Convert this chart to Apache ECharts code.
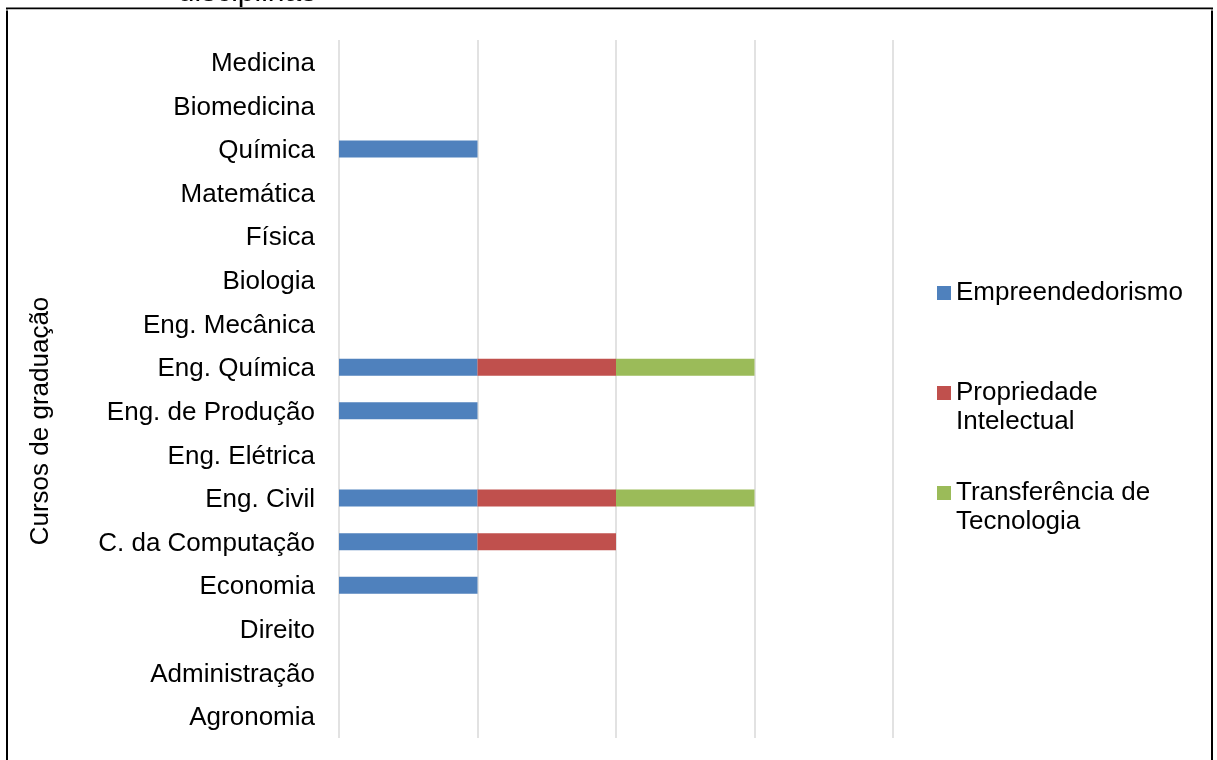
<!DOCTYPE html>
<html>
<head>
<meta charset="utf-8">
<script src="https://cdn.jsdelivr.net/npm/echarts@6/dist/echarts.min.js"></script>
<style>html,body{margin:0;padding:0;background:#fff;}#c{width:1217px;height:760px;}</style>
</head>
<body>
<div id="c"></div>
<script>
const categories = ['Medicina','Biomedicina','Química','Matemática','Física','Biologia','Eng. Mecânica','Eng. Química','Eng. de Produção','Eng. Elétrica','Eng. Civil','C. da Computação','Economia','Direito','Administração','Agronomia'];
const empreendedorismo = [0,0,1,0,0,0,0,1,1,0,1,1,1,0,0,0];
const propriedade      = [0,0,0,0,0,0,0,1,0,0,1,1,0,0,0,0];
const transferencia    = [0,0,0,0,0,0,0,1,0,0,1,0,0,0,0,0];
const seriesNames = ['Empreendedorismo','Propriedade Intelectual','Transferência de Tecnologia'];
const xTicks = [0,1,2,3,4];

const FONT = 'Liberation Sans, Arial, sans-serif';
const chart = echarts.init(document.getElementById('c'));
const firstLine = {'Empreendedorismo':'Empreendedorismo','Propriedade Intelectual':'Propriedade','Transferência de Tecnologia':'Transferência de'};
const colors = ['#4F81BD','#C0504D','#9BBB59'];
const values = [empreendedorismo, propriedade, transferencia];

chart.setOption({
  animation: false,
  backgroundColor: '#fff',
  color: colors,
  grid: {left: 339, right: 324, top: 40, bottom: 22, containLabel: false},
  xAxis: {
    type: 'value', min: xTicks[0], max: xTicks[xTicks.length-1], interval: 1,
    axisLine: {show: false}, axisTick: {show: false}, axisLabel: {show: false},
    splitLine: {show: true, lineStyle: {color: '#d9d9d9', width: 1.5}}
  },
  yAxis: {
    type: 'category', data: categories, inverse: true,
    axisLine: {show: false}, axisTick: {show: false},
    axisLabel: {color: '#000', fontSize: 26, fontFamily: FONT, margin: 24,
      formatter: v => '{a|' + v + '}',
      rich: {a: {color: '#000', fontSize: 26, fontFamily: FONT, padding: [4, 0, 0, 0]}}},
    splitLine: {show: false}
  },
  legend: {
    orient: 'vertical', left: 937, top: 278, padding: 0,
    itemWidth: 14, itemHeight: 14, itemGap: 70, icon: 'rect',
    data: seriesNames,
    formatter: n => firstLine[n],
    textStyle: {color: '#000', fontSize: 26, fontFamily: FONT, lineHeight: 30}
  },
  series: seriesNames.map((n, i) => ({
    name: n, type: 'bar', stack: 'total', data: values[i],
    barWidth: 17, itemStyle: {color: colors[i]}
  })),
  graphic: [
    {type: 'rect', shape: {x: 7, y: 8.5, width: 1205, height: 800}, style: {fill: 'none', stroke: '#000', lineWidth: 2}, silent: true},
    {type: 'text', x: 247, y: 8, style: {text: 'disciplinas', font: '30px ' + FONT, fill: '#000', textAlign: 'center', textVerticalAlign: 'bottom'}},
    {type: 'rect', shape: {x: 0, y: 9.5, width: 1217, height: 1}, style: {fill: '#fff'}, silent: true, z: 100},
    {type: 'text', x: 41, y: 421, rotation: Math.PI/2, style: {text: 'Cursos de graduação', font: '26px ' + FONT, fill: '#000', textAlign: 'center', textVerticalAlign: 'middle'}},
    {type: 'text', x: 956, y: 422, style: {text: 'Intelectual', font: '26px ' + FONT, fill: '#000', textAlign: 'left', textVerticalAlign: 'middle'}},
    {type: 'text', x: 956, y: 522, style: {text: 'Tecnologia', font: '26px ' + FONT, fill: '#000', textAlign: 'left', textVerticalAlign: 'middle'}}
  ]
});
</script>
</body>
</html>
